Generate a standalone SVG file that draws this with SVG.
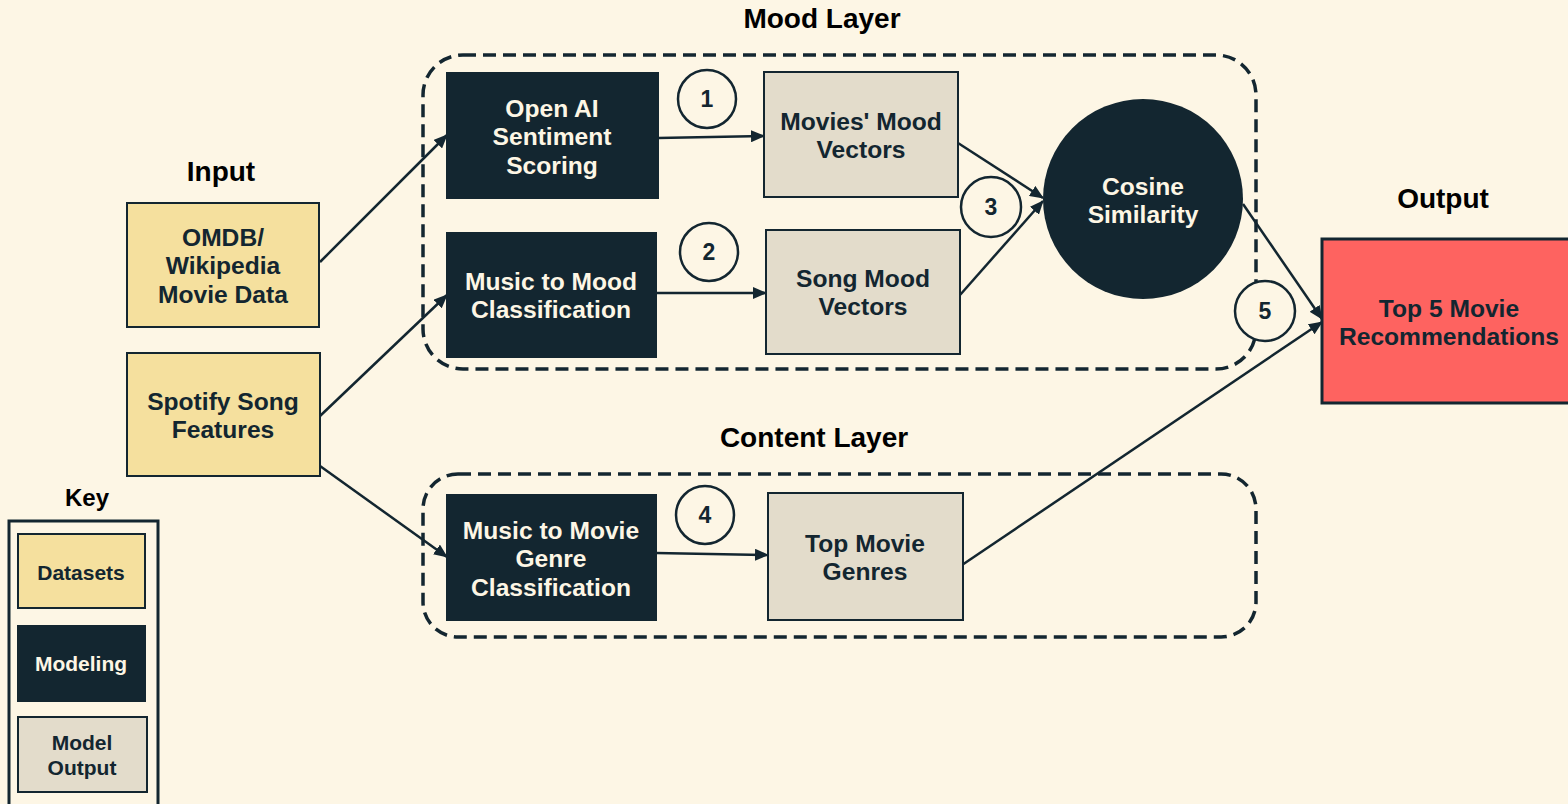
<svg xmlns="http://www.w3.org/2000/svg" width="1568" height="804" viewBox="0 0 1568 804">
<defs>
<style>
text{font-family:"Liberation Sans",Arial,sans-serif;font-weight:bold;text-anchor:middle;dominant-baseline:central}
.t{font-size:24.6px}
.light{fill:#fdf6e5}
.dark{fill:#132630}
.title{font-size:28px;fill:#000}
.ds{fill:#f5e09e;stroke:#132630;stroke-width:2}
.md{fill:#132630;stroke:#132630;stroke-width:2}
.mo{fill:#e3dccb;stroke:#132630;stroke-width:2}
.num{fill:#fdf6e5;stroke:#132630;stroke-width:2.5}
.nt{font-size:23px;fill:#132630}
.layer{fill:none;stroke:#132630;stroke-width:3.5;stroke-dasharray:13 7}
.c{fill:none;stroke:#132630;stroke-width:2.5;marker-end:url(#ah)}
.kt{font-size:21px}
</style>
<marker id="ah" markerUnits="userSpaceOnUse" markerWidth="14" markerHeight="12" refX="13" refY="6" orient="auto">
<path d="M0,0 L14,6 L0,12 z" fill="#132630"/>
</marker>
</defs>
<rect width="1568" height="804" fill="#fdf6e5"/>

<g id="layers">
<text class="title" x="822" y="18">Mood Layer</text>
<rect class="layer" x="423" y="55" width="833" height="314" rx="40"/>
<text class="title" x="814" y="437">Content Layer</text>
<rect class="layer" x="423" y="474" width="833" height="163" rx="35"/>
<text class="title" x="221" y="171">Input</text>
<text class="title" x="1443" y="198">Output</text>
</g>

<g id="connectors">
<line class="c" x1="320" y1="262" x2="447" y2="135"/>
<line class="c" x1="320" y1="416" x2="447" y2="295"/>
<line class="c" x1="320" y1="466" x2="447" y2="557"/>
<line class="c" x1="658" y1="138" x2="764" y2="136"/>
<line class="c" x1="656" y1="293" x2="766" y2="293"/>
<line class="c" x1="656" y1="553" x2="768" y2="555"/>
<line class="c" x1="958" y1="143" x2="1043" y2="198"/>
<line class="c" x1="960" y1="295" x2="1043" y2="201"/>
<line class="c" x1="1243" y1="204" x2="1322" y2="319"/>
<line class="c" x1="962" y1="565" x2="1322" y2="322"/>
</g>

<g id="omdb">
<rect class="ds" x="127" y="203" width="192" height="124"/>
<text class="t dark" x="223" y="237">OMDB/</text>
<text class="t dark" x="223" y="265">Wikipedia</text>
<text class="t dark" x="223" y="294">Movie Data</text>
</g>
<g id="spotify">
<rect class="ds" x="127" y="353" width="193" height="123"/>
<text class="t dark" x="223" y="401">Spotify Song</text>
<text class="t dark" x="223" y="429">Features</text>
</g>

<g id="openai">
<rect class="md" x="447" y="73" width="211" height="125"/>
<text class="t light" x="552" y="108">Open AI</text>
<text class="t light" x="552" y="136">Sentiment</text>
<text class="t light" x="552" y="165">Scoring</text>
</g>
<g id="musicmood">
<rect class="md" x="447" y="233" width="209" height="124"/>
<text class="t light" x="551" y="281">Music to Mood</text>
<text class="t light" x="551" y="309">Classification</text>
</g>
<g id="musicmovie">
<rect class="md" x="447" y="495" width="209" height="125"/>
<text class="t light" x="551" y="530">Music to Movie</text>
<text class="t light" x="551" y="558">Genre</text>
<text class="t light" x="551" y="587">Classification</text>
</g>

<g id="moviesmood">
<rect class="mo" x="764" y="72" width="194" height="125"/>
<text class="t dark" x="861" y="121">Movies' Mood</text>
<text class="t dark" x="861" y="149">Vectors</text>
</g>
<g id="songmood">
<rect class="mo" x="766" y="230" width="194" height="124"/>
<text class="t dark" x="863" y="278">Song Mood</text>
<text class="t dark" x="863" y="306">Vectors</text>
</g>
<g id="topgenres">
<rect class="mo" x="768" y="493" width="195" height="127"/>
<text class="t dark" x="865" y="543">Top Movie</text>
<text class="t dark" x="865" y="571">Genres</text>
</g>

<g id="cosine">
<circle cx="1143" cy="199" r="100" fill="#132630"/>
<text class="t light" x="1143" y="186">Cosine</text>
<text class="t light" x="1143" y="214">Similarity</text>
</g>

<g id="output">
<rect x="1322" y="239" width="262" height="164" fill="#fe6360" stroke="#132630" stroke-width="3"/>
<text class="t dark" x="1449" y="308">Top 5 Movie</text>
<text class="t dark" x="1449" y="336">Recommendations</text>
</g>

<g id="step1"><circle class="num" cx="707" cy="99" r="29"/><text class="nt" x="707" y="99">1</text></g>
<g id="step2"><circle class="num" cx="709" cy="252" r="29"/><text class="nt" x="709" y="252">2</text></g>
<g id="step3"><circle class="num" cx="991" cy="207" r="30"/><text class="nt" x="991" y="207">3</text></g>
<g id="step4"><circle class="num" cx="705" cy="515" r="29"/><text class="nt" x="705" y="515">4</text></g>
<g id="step5"><circle class="num" cx="1265" cy="311" r="30"/><text class="nt" x="1265" y="311">5</text></g>

<g id="key">
<text x="87" y="497" style="font-size:24px;fill:#000">Key</text>
<rect x="9" y="521" width="149" height="300" fill="none" stroke="#132630" stroke-width="3"/>
<rect class="ds" x="18" y="534" width="127" height="74"/>
<text class="kt dark" x="81" y="572">Datasets</text>
<rect class="md" x="18" y="626" width="127" height="75"/>
<text class="kt light" x="81" y="663">Modeling</text>
<rect class="mo" x="18" y="717" width="129" height="75"/>
<text class="kt dark" x="82" y="742">Model</text>
<text class="kt dark" x="82" y="767">Output</text>
</g>
</svg>
